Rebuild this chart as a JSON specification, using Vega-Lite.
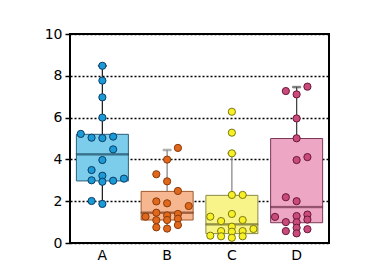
{
  "$schema": "https://vega.github.io/schema/vega-lite/v6.json",
  "width": 259,
  "height": 209,
  "autosize": {"type": "none"},
  "padding": {"left": 70, "top": 34, "right": 59, "bottom": 23},
  "background": "#ffffff",
  "config": {
    "font": "DejaVu Sans",
    "view": {"stroke": "#000000", "strokeWidth": 2, "fill": "#ffffff"},
    "axis": {"labelFont": "DejaVu Sans", "labelFontSize": 14, "labelColor": "#000000"}
  },
  "datasets": {
    "pts": [
      {"cat": "A", "value": 8.48, "slot": 0},
      {"cat": "A", "value": 7.77, "slot": 0},
      {"cat": "A", "value": 6.97, "slot": 0},
      {"cat": "A", "value": 6.0, "slot": 0},
      {"cat": "A", "value": 5.22, "slot": -2},
      {"cat": "A", "value": 5.04, "slot": -1},
      {"cat": "A", "value": 5.02, "slot": 0},
      {"cat": "A", "value": 5.09, "slot": 1},
      {"cat": "A", "value": 4.48, "slot": 1},
      {"cat": "A", "value": 3.97, "slot": 0},
      {"cat": "A", "value": 3.49, "slot": -1},
      {"cat": "A", "value": 3.22, "slot": 0},
      {"cat": "A", "value": 3.0, "slot": -1},
      {"cat": "A", "value": 2.93, "slot": 0},
      {"cat": "A", "value": 2.98, "slot": 1},
      {"cat": "A", "value": 3.08, "slot": 2},
      {"cat": "A", "value": 2.01, "slot": -1},
      {"cat": "A", "value": 1.87, "slot": 0},
      {"cat": "B", "value": 4.55, "slot": 1},
      {"cat": "B", "value": 3.99, "slot": 0},
      {"cat": "B", "value": 3.29, "slot": -1},
      {"cat": "B", "value": 2.95, "slot": 0},
      {"cat": "B", "value": 2.49, "slot": 1},
      {"cat": "B", "value": 1.99, "slot": -1},
      {"cat": "B", "value": 1.9, "slot": 0},
      {"cat": "B", "value": 1.77, "slot": 2},
      {"cat": "B", "value": 1.26, "slot": -2},
      {"cat": "B", "value": 1.45, "slot": -1},
      {"cat": "B", "value": 1.32, "slot": 0},
      {"cat": "B", "value": 1.39, "slot": 1},
      {"cat": "B", "value": 1.09, "slot": -1},
      {"cat": "B", "value": 1.1, "slot": 0},
      {"cat": "B", "value": 1.16, "slot": 1},
      {"cat": "B", "value": 0.75, "slot": -1},
      {"cat": "B", "value": 0.69, "slot": 0},
      {"cat": "B", "value": 0.86, "slot": 1},
      {"cat": "C", "value": 6.28, "slot": 0},
      {"cat": "C", "value": 5.28, "slot": 0},
      {"cat": "C", "value": 4.29, "slot": 0},
      {"cat": "C", "value": 2.3, "slot": 0},
      {"cat": "C", "value": 2.3, "slot": 1},
      {"cat": "C", "value": 1.26, "slot": -2},
      {"cat": "C", "value": 1.39, "slot": 0},
      {"cat": "C", "value": 1.05, "slot": -1},
      {"cat": "C", "value": 1.1, "slot": 1},
      {"cat": "C", "value": 0.78, "slot": 0},
      {"cat": "C", "value": 0.67, "slot": 2},
      {"cat": "C", "value": 0.57, "slot": -1},
      {"cat": "C", "value": 0.54, "slot": 0},
      {"cat": "C", "value": 0.57, "slot": 1},
      {"cat": "C", "value": 0.35, "slot": -2},
      {"cat": "C", "value": 0.32, "slot": -1},
      {"cat": "C", "value": 0.25, "slot": 0},
      {"cat": "C", "value": 0.32, "slot": 1},
      {"cat": "D", "value": 7.27, "slot": -1},
      {"cat": "D", "value": 7.11, "slot": 0},
      {"cat": "D", "value": 7.48, "slot": 1},
      {"cat": "D", "value": 5.96, "slot": 0},
      {"cat": "D", "value": 5.01, "slot": 0},
      {"cat": "D", "value": 3.97, "slot": 0},
      {"cat": "D", "value": 4.11, "slot": 1},
      {"cat": "D", "value": 2.19, "slot": -1},
      {"cat": "D", "value": 2.0, "slot": 0},
      {"cat": "D", "value": 1.25, "slot": -2},
      {"cat": "D", "value": 1.29, "slot": 0},
      {"cat": "D", "value": 1.36, "slot": 1},
      {"cat": "D", "value": 1.12, "slot": 1},
      {"cat": "D", "value": 1.0, "slot": -1},
      {"cat": "D", "value": 0.99, "slot": 0},
      {"cat": "D", "value": 0.73, "slot": 0},
      {"cat": "D", "value": 0.66, "slot": 1},
      {"cat": "D", "value": 0.57, "slot": -1},
      {"cat": "D", "value": 0.46, "slot": 0}
    ],
    "stats": [
      {"cat": "A", "lo": 1.87, "q1": 2.97, "med": 4.24, "q3": 5.2, "hi": 8.48},
      {"cat": "B", "lo": 0.69, "q1": 1.1, "med": 1.45, "q3": 2.47, "hi": 4.45},
      {"cat": "C", "lo": 0.25, "q1": 0.45, "med": 0.89, "q3": 2.28, "hi": 4.29},
      {"cat": "D", "lo": 0.46, "q1": 0.97, "med": 1.72, "q3": 5.0, "hi": 7.46}
    ]
  },
  "encoding": {
    "x": {
      "field": "cat", "type": "nominal", "title": null,
      "scale": {"domain": ["A", "B", "C", "D"], "paddingInner": 0, "paddingOuter": 0},
      "axis": {"domain": false, "ticks": false, "labelAngle": 0, "labelPadding": 5, "grid": false}
    }
  },
  "layer": [
    {
      "data": {"name": "stats"},
      "mark": {"type": "rule", "strokeWidth": 1.3},
      "encoding": {
        "y": {
          "field": "lo", "type": "quantitative", "title": null,
          "scale": {"domain": [0, 10], "nice": false, "zero": true},
          "axis": {
            "values": [0, 2, 4, 6, 8, 10], "domain": false, "tickColor": "#000000", "tickSize": 5, "tickWidth": 1.5,
            "labelPadding": 3, "grid": true, "gridColor": "#000000", "gridDash": [2, 2], "gridWidth": 1.3, "gridOpacity": 1
          }
        },
        "y2": {"field": "hi"},
        "stroke": {"field": "cat", "type": "nominal", "legend": null,
          "scale": {"domain": ["A", "B", "C", "D"], "range": ["#222222", "#8a8a8a", "#8a8a8a", "#444444"]}}
      }
    },
    {
      "data": {"name": "stats"},
      "mark": {"type": "tick", "orient": "horizontal", "size": 8, "thickness": 1.5},
      "encoding": {
        "y": {"field": "hi", "type": "quantitative"},
        "stroke": {"field": "cat", "type": "nominal", "legend": null,
          "scale": {"domain": ["A", "B", "C", "D"], "range": ["#222222", "#8a8a8a", "#8a8a8a", "#444444"]}},
        "fill": {"field": "cat", "type": "nominal", "legend": null,
          "scale": {"domain": ["A", "B", "C", "D"], "range": ["#222222", "#8a8a8a", "#8a8a8a", "#444444"]}}
      }
    },
    {
      "data": {"name": "stats"},
      "mark": {"type": "bar", "width": 52, "strokeWidth": 1, "fillOpacity": 1},
      "encoding": {
        "y": {"field": "q1", "type": "quantitative"},
        "y2": {"field": "q3"},
        "fill": {"field": "cat", "type": "nominal", "legend": null,
          "scale": {"domain": ["A", "B", "C", "D"], "range": ["#7ccdec", "#f6b690", "#f9f48a", "#eda6c3"]}},
        "stroke": {"field": "cat", "type": "nominal", "legend": null,
          "scale": {"domain": ["A", "B", "C", "D"], "range": ["#2f5f78", "#a0582c", "#8a8a48", "#7a3a55"]}}
      }
    },
    {
      "data": {"name": "stats"},
      "mark": {"type": "tick", "orient": "horizontal", "size": 52, "thickness": 1.3},
      "encoding": {
        "y": {"field": "med", "type": "quantitative"},
        "stroke": {"field": "cat", "type": "nominal", "legend": null,
          "scale": {"domain": ["A", "B", "C", "D"], "range": ["#1c4a60", "#7a3a1a", "#6a6a2a", "#6a2a45"]}},
        "fill": {"field": "cat", "type": "nominal", "legend": null,
          "scale": {"domain": ["A", "B", "C", "D"], "range": ["#1c4a60", "#7a3a1a", "#6a6a2a", "#6a2a45"]}}
      }
    },
    {
      "data": {"name": "pts"},
      "mark": {"type": "point", "shape": "circle", "filled": true, "size": 52, "strokeWidth": 1, "opacity": 1},
      "encoding": {
        "y": {"field": "value", "type": "quantitative"},
        "xOffset": {"field": "slot", "type": "quantitative", "scale": {"domain": [-3, 3]}},
        "fill": {"field": "cat", "type": "nominal", "legend": null,
          "scale": {"domain": ["A", "B", "C", "D"], "range": ["#1a9ad6", "#e0681c", "#f8f026", "#c94b7b"]}},
        "stroke": {"field": "cat", "type": "nominal", "legend": null,
          "scale": {"domain": ["A", "B", "C", "D"], "range": ["#0d3d66", "#8a3a0a", "#7a7a10", "#6a1838"]}}
      }
    }
  ],
  "resolve": {"scale": {"fill": "independent", "stroke": "independent"}}
}
